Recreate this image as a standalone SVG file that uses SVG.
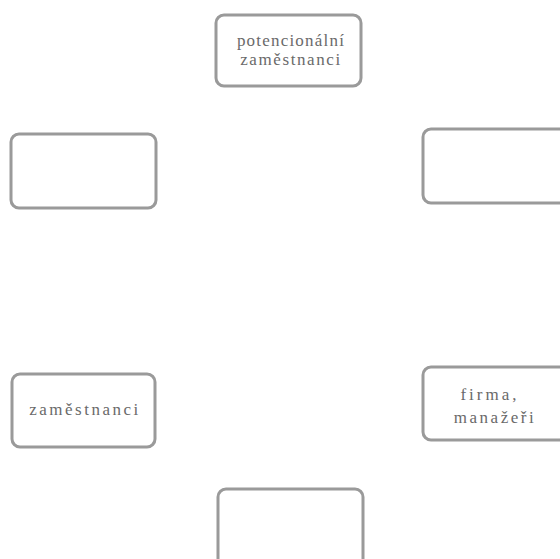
<svg xmlns="http://www.w3.org/2000/svg" width="560" height="559" viewBox="0 0 560 559">
<style>
.box{fill:#fff;stroke:#9a9a9a;stroke-width:3}
.t{font-family:"Liberation Serif",serif;font-size:17px;fill:#6a6a6a;text-anchor:middle;letter-spacing:1.2px}
</style>
<rect width="560" height="559" fill="#fff"/>
<g id="connectors"></g>
<g id="n-top"><rect class="box" x="216" y="15" width="145" height="71" rx="8"/>
<text class="t" x="291" y="46">potencionální</text><text class="t" x="291" y="65" style="letter-spacing:1.6px">zaměstnanci</text></g>
<g id="n-left-up"><rect class="box" x="11" y="134" width="145" height="74" rx="8"/></g>
<g id="n-right-up"><rect class="box" x="423" y="129" width="145" height="74" rx="8"/></g>
<g id="n-left-low"><rect class="box" x="12" y="374" width="143" height="73" rx="8"/>
<text class="t" x="85" y="415" style="letter-spacing:2.5px">zaměstnanci</text></g>
<g id="n-right-low"><rect class="box" x="423" y="367" width="145" height="73" rx="8"/>
<text class="t" x="490" y="400" style="letter-spacing:3px">firma,</text><text class="t" x="495" y="423" style="letter-spacing:2.5px">manažeři</text></g>
<g id="n-bottom"><rect class="box" x="218" y="489" width="145" height="80" rx="8"/></g>
</svg>
